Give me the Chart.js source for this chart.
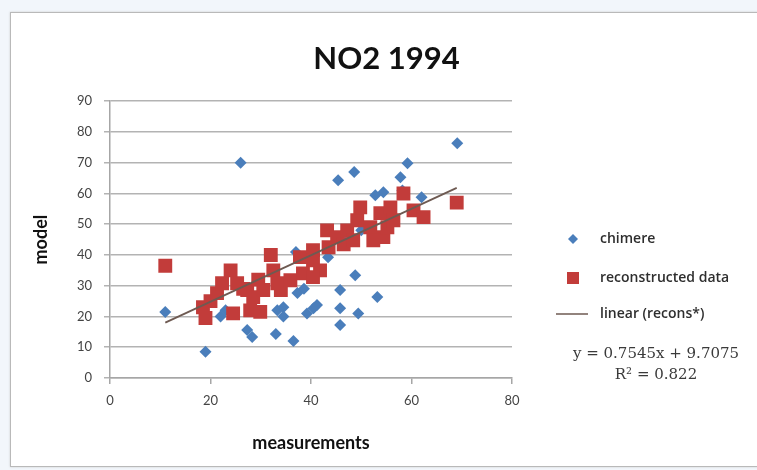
<!DOCTYPE html>
<html>
<head>
<meta charset="utf-8">
<title>NO2 1994</title>
<script src="https://cdn.jsdelivr.net/npm/chart.js@4.4.0/dist/chart.umd.min.js"></script>
<style>
  html, body { margin: 0; padding: 0; background: #f2f6fb; overflow: hidden; }
  #frame {
    position: absolute; left: 10px; top: 12px; width: 760px; height: 453px;
    background: #fff; border: 1px solid #b9b9b9; box-shadow: 0 0 2px #ccc;
  }
  #wrap { position: absolute; left: 0; top: 0; width: 757px; height: 470px; }
</style>
</head>
<body>
<div id="frame"></div>
<div id="wrap"><canvas id="scatter-chart" width="757" height="470"></canvas></div>
<script>
// data
const chimereX = [11, 19, 22, 23, 26, 27.3, 28.3, 33, 33.3, 34.5, 34.5, 36.5, 37.3, 38.6, 39.2, 40.5, 41.2,
  37, 43.4, 45.4, 48.6, 45.8, 48.8, 53.2, 45.8, 49.4, 45.8, 52.8, 54.4, 57.8, 59.2, 58.2, 62, 69.1, 46, 50];
const chimereY = [21.5, 8.5, 20, 22, 70, 15.6, 13.3, 14.3, 22, 23, 20, 12, 27.6, 29, 21, 22.7, 23.7,
  41, 39.3, 64.3, 67, 28.6, 33.4, 26.3, 22.7, 21, 17.2, 59.4, 60.4, 65.3, 69.8, 61, 58.8, 76.3, 46, 48];

const reconX = [11, 18.5, 19, 20, 21.3, 22.3, 24, 24.5, 25.3, 26.5, 27.3, 28.5, 27.9, 29.9, 30.5, 29.5,
  32, 32.5, 33.3, 34, 35.9, 37.8, 38.4, 40.4, 40.4, 41.8, 40.4, 43.2, 43.5, 45.2, 46.5, 47.2, 48.4,
  49.2, 49.8, 51.8, 52.4, 53.8, 54.4, 55.2, 55.8, 56.4, 58.4, 60.4, 62.4, 69];
const reconY = [36.5, 23, 19.5, 25, 27.6, 30.8, 35, 21, 30.8, 29, 28.6, 26.3, 22, 21.5, 28.6, 32,
  40, 35, 30.8, 28.6, 31.8, 39.3, 34, 41.6, 38.3, 35, 32.8, 48, 42.5, 45.8, 43.5, 48, 44.8,
  51.3, 55.5, 49, 44.8, 53.6, 45.8, 49, 55.5, 51.3, 60, 54.5, 52.3, 57];

// ends of the linear trendline (recons*)
const trendX = [11, 69];
const trendY = [18.0, 61.8];

const xTicks = [0, 20, 40, 60, 80];
const yTicks = [0, 10, 20, 30, 40, 50, 60, 70, 80, 90];

const legendItems = ["chimere", "reconstructed data", "linear (recons*)"];
const equationText = ["y = 0.7545x + 9.7075", "R\u00B2 = 0.822"];

const blue = "#4a7ebb";
const red = "#c23c3a";
const trendColor = "#6e5a52";

function toPoints(xs, ys) {
  return xs.map((x, i) => ({ x: x, y: ys[i] }));
}

// legend + equation drawn to the right of the plot
const sideLegend = {
  id: "sideLegend",
  afterDraw(chart) {
    const ctx = chart.ctx;
    ctx.save();
    ctx.textBaseline = "middle";
    ctx.textAlign = "left";

    // diamond
    ctx.fillStyle = blue;
    ctx.beginPath();
    ctx.moveTo(573, 234); ctx.lineTo(578, 239); ctx.lineTo(573, 244); ctx.lineTo(568, 239);
    ctx.closePath(); ctx.fill();
    // square
    ctx.fillStyle = red;
    ctx.fillRect(567, 272, 12, 12);
    // line
    ctx.strokeStyle = trendColor;
    ctx.lineWidth = 1.5;
    ctx.beginPath(); ctx.moveTo(556, 314); ctx.lineTo(588, 314); ctx.stroke();

    ctx.font = "600 14px 'Open Sans'";
    ctx.fillStyle = "#2e2e2e";
    ctx.fillText(legendItems[0], 600, 239);
    ctx.fillText(legendItems[1], 600, 278);
    ctx.fillText(legendItems[2], 600, 314);

    ctx.textAlign = "center";
    ctx.font = "15px 'DejaVu Serif'";
    ctx.fillStyle = "#3a3a3a";
    ctx.fillText(equationText[0], 656, 354);
    ctx.fillText(equationText[1], 656, 375);
    ctx.restore();
  },
};

const ctx = document.getElementById("scatter-chart").getContext("2d");
new Chart(ctx, {
  type: "scatter",
  data: {
    datasets: [
      {
        label: legendItems[2],
        type: "line",
        data: toPoints(trendX, trendY),
        borderColor: trendColor,
        borderWidth: 1.8,
        pointRadius: 0,
        fill: false,
        order: 1,
      },
      {
        label: legendItems[1],
        data: toPoints(reconX, reconY),
        pointStyle: "rect",
        pointRadius: 9.8,
        pointHoverRadius: 9.8,
        backgroundColor: red,
        borderWidth: 0,
        order: 2,
      },
      {
        label: legendItems[0],
        data: toPoints(chimereX, chimereY),
        pointStyle: "rectRot",
        pointRadius: 6,
        pointHoverRadius: 6,
        backgroundColor: blue,
        borderWidth: 0,
        order: 3,
      },
    ],
  },
  options: {
    responsive: false,
    devicePixelRatio: 1,
    animation: false,
    layout: { padding: { left: 26, right: 10, top: 0, bottom: 12 } },
    plugins: {
      legend: { display: false },
      tooltip: { enabled: false },
      title: {
        display: true,
        text: "NO2 1994",
        color: "#111",
        font: { family: "Lato", size: 31, weight: "bold" },
        padding: { top: 40, bottom: 24 },
      },
    },
    scales: {
      x: {
        type: "linear",
        min: 0,
        max: 80,
        afterBuildTicks: (scale) => { scale.ticks = xTicks.map((v) => ({ value: v })); },
        afterFit: (scale) => { scale.height = 80; },
        ticks: { color: "#444", font: { family: "Lato", size: 13 }, padding: 9 },
        grid: { drawOnChartArea: false, drawTicks: true, tickLength: 6, color: "#a6a6a6", lineWidth: 1.5 },
        border: { color: "#a6a6a6", width: 1.5 },
        title: {
          display: true,
          text: "measurements",
          color: "#111",
          font: { family: "Lato", size: 18, weight: "bold" },
        },
      },
      y: {
        min: 0,
        max: 90,
        afterBuildTicks: (scale) => { scale.ticks = yTicks.map((v) => ({ value: v })); },
        afterFit: (scale) => { scale.width = 84; },
        ticks: { color: "#444", font: { family: "Lato", size: 13 }, padding: 12 },
        grid: { color: "#b3b3b3", lineWidth: 1.5, tickLength: 6 },
        border: { color: "#a6a6a6", width: 1.5 },
        title: {
          display: true,
          text: "model",
          color: "#111",
          font: { family: "Lato", size: 18, weight: "bold" },
        },
      },
      // empty axis that keeps room for the legend on the right
      side: {
        axis: "y",
        position: "right",
        ticks: { display: false },
        grid: { display: false, drawTicks: false },
        border: { display: false },
        afterFit: (scale) => { scale.width = 235; },
      },
    },
  },
  plugins: [sideLegend],
});
</script>
</body>
</html>
